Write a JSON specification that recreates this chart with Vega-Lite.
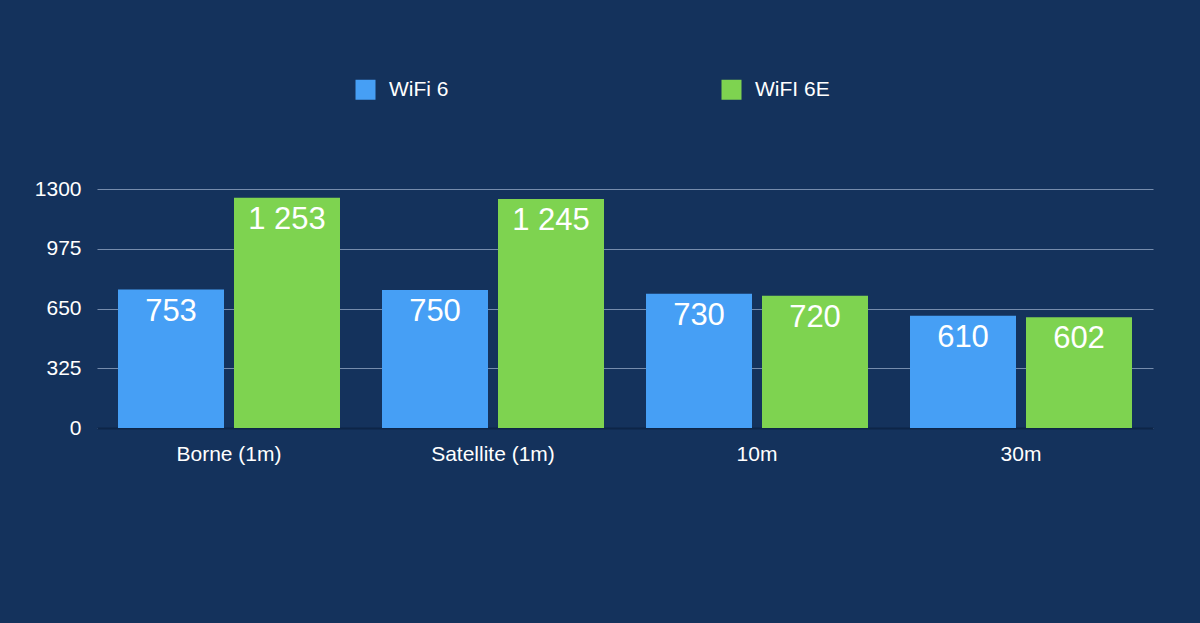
{
  "$schema": "https://vega.github.io/schema/vega-lite/v6.json",
  "width": 1056,
  "height": 239,
  "autosize": {"type": "none"},
  "padding": {"left": 97, "top": 189, "right": 47, "bottom": 195},
  "background": "#14325c",
  "data": {
    "values": [
      {"lieu": "Borne (1m)", "serie": "WiFi 6", "debit": 753},
      {"lieu": "Borne (1m)", "serie": "WiFI 6E", "debit": 1253},
      {"lieu": "Satellite (1m)", "serie": "WiFi 6", "debit": 750},
      {"lieu": "Satellite (1m)", "serie": "WiFI 6E", "debit": 1245},
      {"lieu": "10m", "serie": "WiFi 6", "debit": 730},
      {"lieu": "10m", "serie": "WiFI 6E", "debit": 720},
      {"lieu": "30m", "serie": "WiFi 6", "debit": 610},
      {"lieu": "30m", "serie": "WiFI 6E", "debit": 602}
    ]
  },
  "encoding": {
    "x": {
      "field": "lieu", "type": "nominal", "sort": null,
      "scale": {"paddingInner": 0, "paddingOuter": 0},
      "axis": {"title": null, "labelAngle": 0, "labelFontSize": 21, "labelColor": "#ffffff", "labelPadding": 15, "domain": true, "domainColor": "#0d2547", "domainWidth": 2, "ticks": false}
    },
    "xOffset": {
      "field": "serie", "type": "nominal", "sort": ["WiFi 6", "WiFI 6E"],
      "scale": {"paddingInner": 0.0862, "paddingOuter": 0.181}
    },
    "y": {
      "field": "debit", "type": "quantitative",
      "scale": {"domain": [0, 1300], "nice": false},
      "axis": {"title": null, "values": [0, 325, 650, 975, 1300], "format": "d", "labelFontSize": 21, "labelColor": "#ffffff", "labelPadding": 16, "domain": false, "ticks": false, "gridColor": "#8fa3c0", "gridWidth": 1.2, "gridOpacity": 0.8}
    }
  },
  "layer": [
    {
      "mark": {"type": "bar", "cornerRadius": 0},
      "encoding": {
        "color": {
          "field": "serie", "type": "nominal", "sort": ["WiFi 6", "WiFI 6E"],
          "scale": {"domain": ["WiFi 6", "WiFI 6E"], "range": ["#469ff5", "#7ed350"]},
          "legend": {
            "title": null, "orient": "none", "direction": "horizontal",
            "legendX": 258, "legendY": -110,
            "symbolType": "square", "symbolSize": 400, "symbolStrokeWidth": 0, "symbolOpacity": 1,
            "labelFontSize": 21, "labelColor": "#ffffff", "labelOffset": 13,
            "columnPadding": 272
          }
        }
      }
    },
    {
      "mark": {"type": "text", "baseline": "top", "dy": 7, "fontSize": 31, "color": "#ffffff"},
      "encoding": {
        "text": {"field": "debit", "type": "quantitative", "format": ",d"}
      }
    }
  ],
  "config": {
    "font": "Liberation Sans",
    "view": {"stroke": null},
    "locale": {"number": {"decimal": ",", "thousands": " ", "grouping": [3], "currency": ["", " €"]}}
  }
}
